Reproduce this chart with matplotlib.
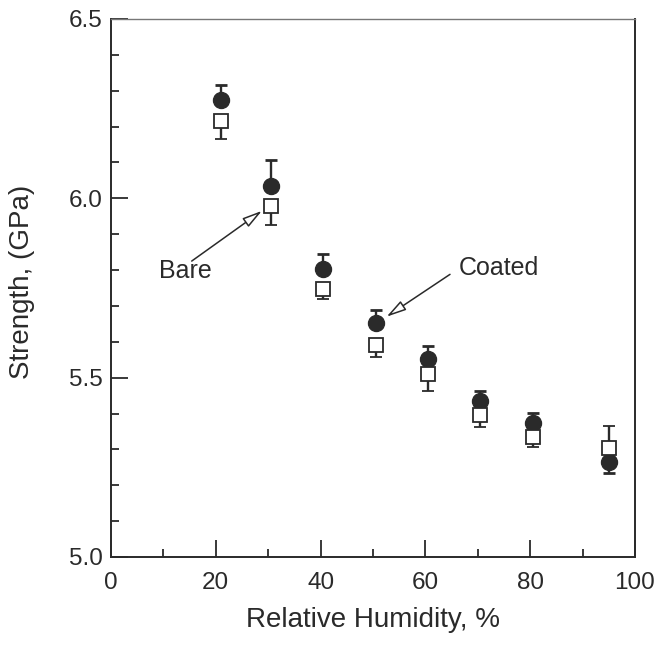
import matplotlib
matplotlib.use('Agg')
import matplotlib.pyplot as plt
from matplotlib.ticker import MultipleLocator, FormatStrFormatter

# relative humidity (%) for each measurement
humidity = [21, 30.5, 40.5, 50.5, 60.5, 70.5, 80.5, 95]

# coated fibres (filled circles)
coated = [6.275, 6.034, 5.802, 5.653, 5.553, 5.434, 5.373, 5.266]
coated_up = [0.041, 0.073, 0.042, 0.037, 0.036, 0.030, 0.028, 0.0]
coated_down = [0.0, 0.0, 0.0, 0.0, 0.0, 0.0, 0.0, 0.031]

# bare fibres (open squares)
bare = [6.216, 5.979, 5.748, 5.591, 5.511, 5.397, 5.334, 5.304]
bare_up = [0.0, 0.0, 0.0, 0.0, 0.0, 0.0, 0.0, 0.060]
bare_down = [0.051, 0.054, 0.030, 0.033, 0.049, 0.035, 0.028, 0.0]

ink = '#2a2a2a'
plt.rcParams['font.family'] = ['Liberation Sans', 'DejaVu Sans']

fig = plt.figure(figsize=(6.58, 6.5), dpi=100)
ax = fig.add_axes([0.1687, 0.1431, 0.7963, 0.8277])

ax.errorbar(humidity, coated, yerr=[coated_down, coated_up], fmt='o',
            ms=11.5, mfc=ink, mec=ink, ecolor=ink, elinewidth=1.7,
            capsize=4, capthick=2, zorder=3)
ax.errorbar(humidity, bare, yerr=[bare_down, bare_up], fmt='s',
            ms=10, mfc='white', mec=ink, mew=1.3, ecolor=ink, elinewidth=1.7,
            capsize=4, capthick=2, zorder=4)

# labels with open arrow heads
arrow = dict(arrowstyle='-|>,head_length=0.6,head_width=0.16', fc='white',
             ec=ink, lw=1.1, mutation_scale=20, shrinkA=0, shrinkB=0)
ax.annotate('', xy=(28.8, 5.965), xytext=(15.4, 5.825), arrowprops=arrow, zorder=5)
ax.text(9.2, 5.797, 'Bare', fontsize=18, color=ink, va='center', ha='left')
ax.annotate('', xy=(52.6, 5.670), xytext=(64.7, 5.788), arrowprops=arrow, zorder=5)
ax.text(66.4, 5.807, 'Coated', fontsize=18, color=ink, va='center', ha='left')

ax.set_xlim(0, 100)
ax.set_ylim(5.0, 6.5)
ax.xaxis.set_major_locator(MultipleLocator(20))
ax.xaxis.set_minor_locator(MultipleLocator(10))
ax.yaxis.set_major_locator(MultipleLocator(0.5))
ax.yaxis.set_minor_locator(MultipleLocator(0.1))
ax.yaxis.set_major_formatter(FormatStrFormatter('%.1f'))

ax.tick_params(which='both', direction='in', colors=ink, labelsize=17.5,
               top=False, right=False, width=1.3)
ax.tick_params(which='major', length=12)
ax.tick_params(which='minor', length=6)
ax.tick_params(axis='x', which='major', pad=11)
ax.tick_params(axis='y', which='major', pad=6)

for s in ax.spines.values():
    s.set_color(ink)
    s.set_linewidth(1.4)
ax.spines['top'].set_color('#777777')
ax.spines['top'].set_linewidth(1.0)

ax.set_xlabel('Relative Humidity, %', fontsize=20, color=ink, va='center')
ax.set_ylabel('Strength, (GPa)', fontsize=20, color=ink, va='center')
ax.xaxis.set_label_coords(0.5, -0.117)
ax.yaxis.set_label_coords(-0.170, 0.511)

fig.savefig('out.png', dpi=100)
